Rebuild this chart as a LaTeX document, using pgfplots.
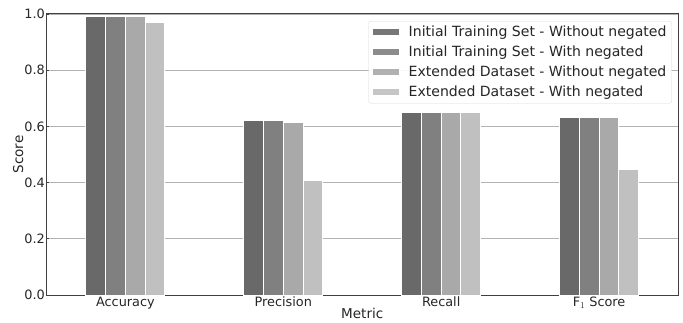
\documentclass[border=0pt]{standalone}
\usepackage{pgfplots}
\pgfplotsset{compat=1.18}
\usepackage{fontspec}
\setmainfont{DejaVu Sans}
\definecolor{c1}{HTML}{696969}
\definecolor{c2}{HTML}{808080}
\definecolor{c3}{HTML}{A9A9A9}
\definecolor{c4}{HTML}{C0C0C0}
\definecolor{txt}{HTML}{262626}
\begin{document}
\begin{tikzpicture}
\begin{axis}[
  scale only axis,
  width=631.5bp, height=281bp,
  xmin=-0.5, xmax=3.5, ymin=0, ymax=1,
  xtick={0,1,2,3},
  xticklabels={Accuracy,Precision,Recall,F$_1$ Score},
  ytick={0,0.2,0.4,0.6,0.8,1.0},
  yticklabel style={/pgf/number format/fixed,/pgf/number format/fixed zerofill,/pgf/number format/precision=1},
  /pgf/number format/assume math mode=true,
  ymajorgrids, grid style={color=black!30, line width=0.8pt},
  axis line style={color=black!75, line width=1pt},
  major tick length=2.5bp,
  tick style={color=black!75, line width=0.8pt},
  xtick pos=bottom, ytick pos=left,
  ticklabel style={font=\fontsize{12.9}{14}\selectfont, text=txt},
  xticklabel style={inner sep=1.5bp},
  yticklabel style={inner sep=1.5bp},
  xlabel={Metric}, ylabel={Score},
  label style={font=\fontsize{13.6}{15}\selectfont, text=txt},
  xlabel style={at={(axis description cs:0.5,0)}, anchor=north, yshift=-13bp, inner sep=0pt},
  ylabel style={at={(axis description cs:-0.0364,0.5)}, anchor=south, inner sep=0pt},
  legend style={at={(0.99,0.975)}, anchor=north east, draw=black!15, rounded corners=2pt,
    font=\fontsize{14.1}{16}\selectfont, text=txt, row sep=3.8bp, inner sep=3bp,
    fill=white, fill opacity=0.9, text opacity=1},
  legend cell align=left,
  legend image code/.code={\path (0bp,0bp) -- (34bp,0bp); \fill[#1, sharp corners] (0bp,-3.5bp) rectangle (27bp,3.5bp);},
  set layers,
]
\addplot[ybar, bar width=0.125, bar shift=-0.1875, fill=c1, draw=white, line width=1pt] coordinates {(0,0.99) (1,0.62) (2,0.65) (3,0.633)};
\addlegendentry{Initial Training Set - Without negated}
\addplot[ybar, bar width=0.125, bar shift=-0.0625, fill=c2, draw=white, line width=1pt] coordinates {(0,0.99) (1,0.62) (2,0.65) (3,0.633)};
\addlegendentry{Initial Training Set - With negated}
\addplot[ybar, bar width=0.125, bar shift=0.0625, fill=c3, draw=white, line width=1pt] coordinates {(0,0.99) (1,0.615) (2,0.65) (3,0.630)};
\addlegendentry{Extended Dataset - Without negated}
\addplot[ybar, bar width=0.125, bar shift=0.1875, fill=c4, draw=white, line width=1pt] coordinates {(0,0.969) (1,0.408) (2,0.65) (3,0.446)};
\addlegendentry{Extended Dataset - With negated}
\end{axis}
\pgfresetboundingbox
\path ([shift={(-46.5bp,-27bp)}]current axis.south west) rectangle ([shift={(5bp,14bp)}]current axis.north east);
\end{tikzpicture}
\end{document}
